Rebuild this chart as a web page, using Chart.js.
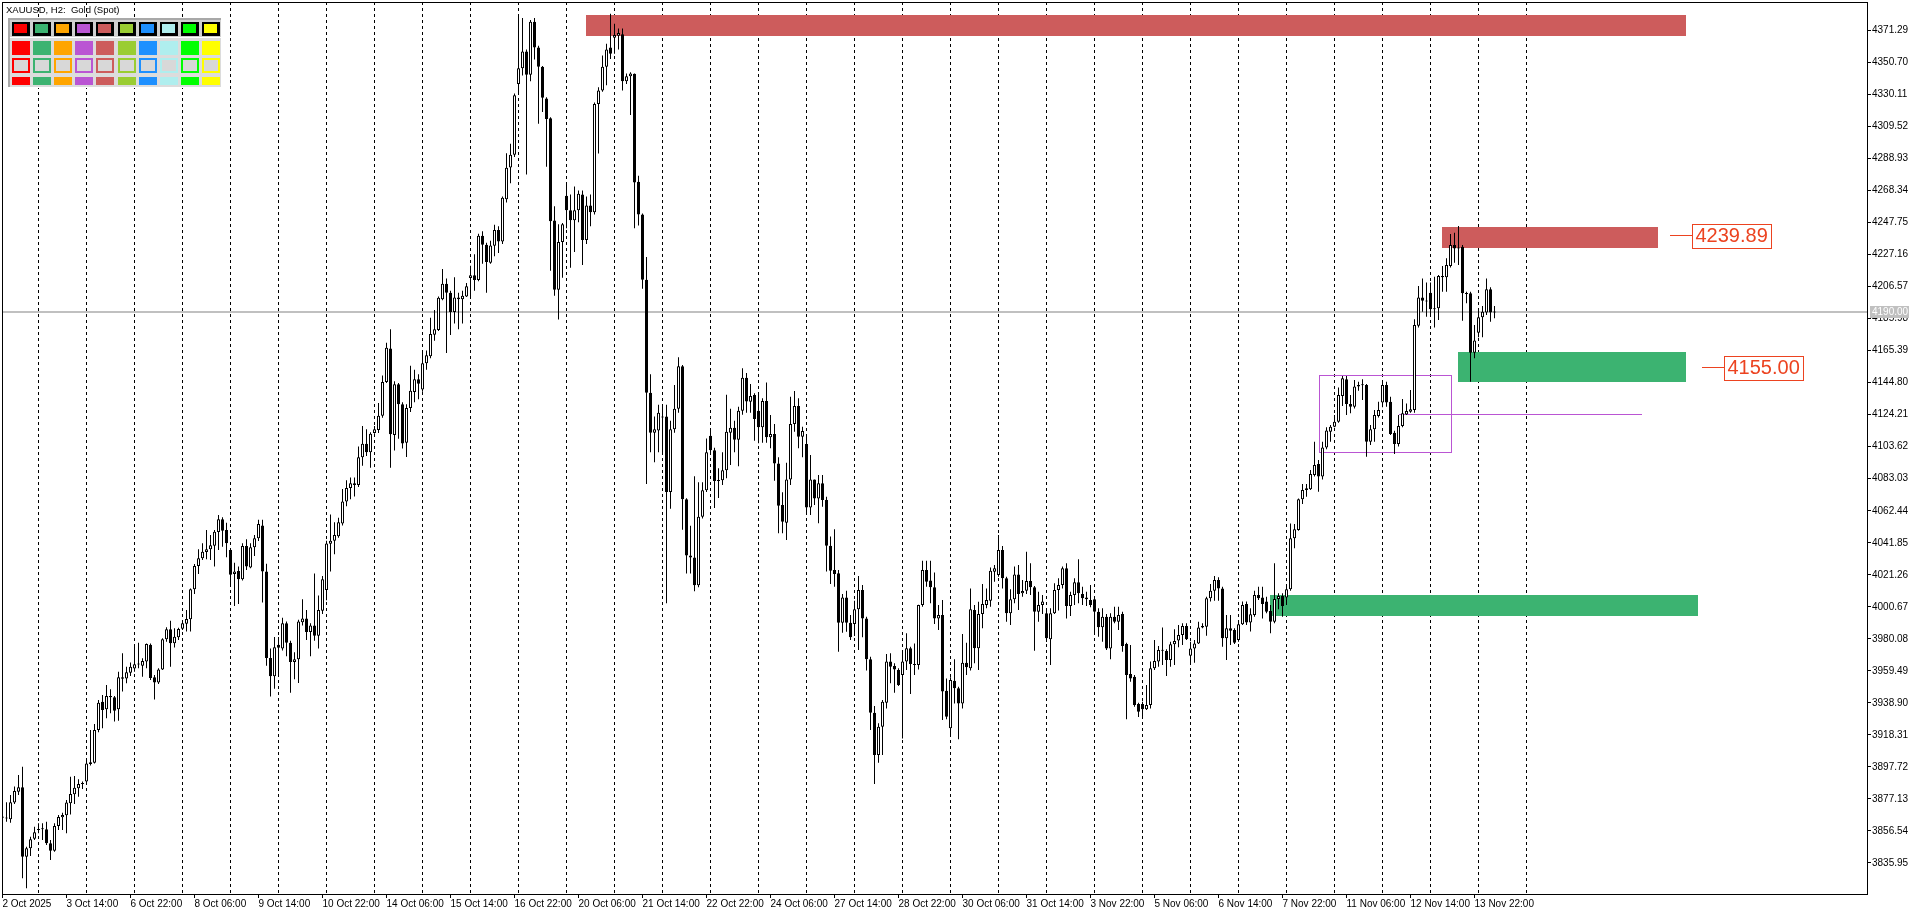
<!DOCTYPE html>
<html>
<head>
<meta charset="utf-8">
<title>XAUUSD, H2</title>
<script src="https://cdn.jsdelivr.net/npm/chart.js@4.4.1/dist/chart.umd.min.js"></script>
<style>
html,body{margin:0;padding:0;background:#ffffff;overflow:hidden;}
canvas{display:block;}
</style>
</head>
<body>
<canvas id="chart" width="1920" height="915"></canvas>
<script>
// ---------------- DATA ----------------
const symbolTitle = "XAUUSD, H2:  Gold (Spot)";

const opens = [
3865.0,3865.0,3864.0,3874.7,3881.7,3884.5,3839.9,3845.3,3851.5,3857.0,
3857.5,3857.5,3848.5,3843.8,3859.6,3865.2,3866.5,3874.2,3880.0,3883.9,
3886.7,3888.2,3899.5,3900.4,3921.4,3939.6,3934.7,3943.3,3942.4,3934.7,
3954.4,3954.6,3958.3,3960.9,3963.5,3962.8,3965.4,3976.3,3955.3,3951.9,
3960.4,3979.7,3986.2,3977.2,3981.0,3986.6,3989.8,3992.6,4011.9,4026.9,
4031.9,4035.9,4037.6,4040.0,4048.8,4056.9,4050.1,4037.2,4021.8,4023.7,
4018.3,4039.8,4026.0,4038.9,4044.7,4053.0,4023.3,3967.7,3956.0,3976.3,
3973.8,3990.0,3977.5,3965.2,3966.9,3990.7,3993.1,3984.5,3988.7,3982.0,
3998.1,4011.4,4041.2,4043.1,4046.1,4054.3,4068.4,4077.0,4080.2,4079.0,
4096.8,4105.5,4100.0,4112.4,4114.4,4123.5,4145.3,4166.8,4111.2,4143.8,
4131.0,4106.2,4128.5,4138.9,4147.0,4140.4,4157.4,4161.9,4175.7,4178.7,
4198.5,4208.4,4202.7,4190.3,4199.7,4198.5,4200.2,4212.1,4213.9,4210.9,
4239.3,4233.6,4222.0,4232.9,4243.0,4235.6,4262.8,4283.3,4291.4,4336.9,
4347.1,4357.8,4343.0,4377.0,4360.4,4348.1,4327.7,4314.9,4249.1,4204.6,
4235.3,4265.1,4255.7,4249.3,4255.7,4265.9,4236.6,4258.8,4254.4,4324.1,
4332.8,4348.1,4360.4,4366.7,4368.0,4369.0,4338.7,4342.0,4343.5,4274.1,
4253.1,4211.0,4138.3,4112.7,4114.0,4123.0,4123.0,4074.5,4114.8,4128.1,
4155.4,4069.9,4033.6,4032.3,4014.5,4058.6,4075.7,4110.7,4101.3,4081.6,
4082.1,4088.5,4112.7,4115.8,4108.1,4126.8,4148.0,4132.6,4136.9,4126.8,
4116.1,4133.0,4109.7,4111.8,4092.9,4066.1,4054.8,4082.6,4118.2,4129.8,
4110.1,4105.4,4064.6,4082.6,4070.4,4080.1,4069.4,4040.0,4024.3,4022.2,
3990.4,4006.7,3990.4,3989.6,3999.0,4011.5,3993.2,3966.9,3932.5,3905.3,
3923.5,3939.0,3965.4,3962.6,3960.0,3956.8,3965.4,3974.0,3963.9,3963.2,
4001.8,4024.3,4017.5,4013.2,3993.2,3995.4,3946.7,3922.5,3953.1,3948.2,
3938.5,3964.7,3961.1,3998.6,3974.0,3996.0,4001.8,4004.6,4023.2,4021.1,
4037.2,4019.0,3996.5,4005.5,4021.5,4009.3,4011.0,4017.3,4013.2,3997.5,
4001.8,3996.5,3979.7,3996.5,4011.5,4014.7,4025.4,4001.2,4008.2,4016.4,
4008.9,4006.7,4005.0,4005.5,3997.5,3987.5,3994.3,3973.9,3994.3,3991.1,
3996.0,3976.7,3957.4,3955.7,3938.1,3938.1,3934.7,3937.5,3961.1,3965.4,
3972.4,3972.2,3966.4,3976.5,3978.9,3982.5,3988.3,3969.2,3973.9,3977.1,
3988.3,3987.9,4006.1,4011.0,4017.9,4012.5,3980.4,3986.8,3985.7,3979.3,
3989.4,4002.5,3990.5,3995.4,4008.2,4006.7,4004.0,3997.9,3991.1,4005.7,
4007.6,4006.7,4011.9,4044.7,4050.1,4069.8,4076.9,4076.2,4085.4,4092.5,
4084.4,4103.2,4113.3,4116.5,4119.7,4136.3,4147.0,4131.1,4129.4,4143.3,
4143.6,4143.3,4106.9,4114.8,4123.4,4132.0,4143.3,4132.6,4112.7,4105.4,
4116.9,4124.4,4126.2,4127.2,4181.5,4199.7,4197.6,4202.7,4192.7,4192.7,
4212.6,4212.6,4219.9,4233.4,4231.7,4232.3,4202.3,4202.3,4164.1,4177.0,
4186.9,4189.9,4204.9,4190.3
];

const highs = [
3867.5,3874.9,3879.6,3885.0,3892.4,3897.8,3846.3,3852.8,3859.2,3861.4,
3861.4,3862.4,3850.6,3861.4,3866.7,3868.2,3876.4,3891.4,3891.8,3889.7,
3888.2,3903.2,3921.4,3925.3,3940.7,3943.9,3950.3,3947.6,3943.3,3958.9,
3970.7,3962.1,3964.9,3976.7,3977.6,3967.5,3977.1,3977.1,3956.8,3961.1,
3980.4,3987.5,3991.7,3986.8,3987.2,3991.1,3998.6,4012.5,4028.2,4037.6,
4041.5,4050.1,4046.9,4050.1,4059.7,4058.2,4054.8,4038.3,4029.0,4026.5,
4041.5,4044.1,4041.5,4046.9,4056.7,4056.7,4028.3,3973.8,3981.3,3981.3,
3993.6,3991.2,3978.8,3971.4,3992.4,4005.5,3998.6,3990.0,4022.1,4008.0,
4020.4,4043.1,4060.0,4055.0,4058.0,4076.5,4082.0,4083.9,4083.9,4103.7,
4116.9,4114.9,4112.9,4116.9,4131.7,4149.5,4170.5,4179.2,4145.8,4144.6,
4132.2,4131.0,4155.7,4153.2,4150.2,4164.9,4165.6,4186.6,4191.6,4200.2,
4218.0,4211.9,4203.9,4212.6,4202.7,4203.9,4208.9,4220.0,4227.4,4240.6,
4242.3,4234.8,4236.1,4246.5,4245.5,4264.6,4292.5,4298.6,4330.8,4380.8,
4379.5,4359.1,4378.2,4379.5,4361.6,4348.5,4328.5,4315.5,4258.3,4246.8,
4247.5,4272.3,4265.9,4271.0,4268.5,4268.5,4264.6,4265.9,4325.1,4334.8,
4355.3,4362.9,4382.1,4375.7,4372.6,4372.6,4343.8,4344.5,4343.8,4277.9,
4253.7,4225.6,4150.3,4123.0,4130.6,4130.6,4130.6,4120.4,4143.4,4161.2,
4156.2,4070.5,4052.8,4084.7,4080.8,4080.8,4108.9,4114.0,4103.0,4089.8,
4100.0,4137.0,4128.1,4120.4,4129.3,4154.1,4151.0,4144.0,4138.0,4138.0,
4134.8,4144.9,4124.0,4118.2,4096.8,4074.3,4093.4,4135.8,4139.5,4134.8,
4116.5,4111.8,4098.3,4082.6,4085.4,4085.4,4071.5,4045.8,4050.5,4024.3,
4008.9,4011.0,3995.4,4004.6,4020.5,4014.7,3994.3,3968.6,3936.8,3925.7,
3940.7,3970.3,3970.7,3964.3,3961.1,3971.8,3983.6,3975.0,3977.1,4002.0,
4030.3,4030.3,4030.3,4022.8,4001.8,4005.0,3954.6,3955.3,3966.9,3949.3,
3983.2,3977.6,4012.5,4001.8,4003.9,4015.3,4012.5,4026.0,4027.5,4046.8,
4039.8,4020.0,4011.9,4026.5,4027.5,4017.9,4036.1,4028.6,4014.0,4010.4,
4008.2,3999.7,3999.7,4015.8,4019.0,4026.5,4028.6,4010.4,4019.0,4031.2,
4013.6,4010.4,4014.7,4006.1,3999.7,3999.7,3996.0,3996.5,4000.7,4000.7,
3997.5,3977.6,3976.1,3956.8,3939.0,3939.6,3950.4,3965.4,3979.3,3975.4,
3987.4,3973.3,3978.2,3986.2,3988.9,3990.0,3990.0,3978.2,3979.3,3991.1,
3990.0,4007.2,4015.3,4020.5,4019.6,4013.6,3995.4,3995.4,3986.8,3992.2,
4004.0,4004.0,3999.7,4011.0,4013.6,4013.6,4007.2,4001.8,4028.6,4009.3,
4009.3,4014.0,4054.3,4053.9,4070.4,4079.6,4079.6,4088.6,4106.9,4095.1,
4106.9,4116.1,4117.6,4124.0,4141.8,4149.1,4149.1,4136.9,4146.5,4145.5,
4147.0,4144.0,4117.6,4127.2,4132.6,4146.5,4145.5,4135.8,4113.9,4124.0,
4134.3,4131.5,4140.1,4185.6,4207.0,4211.9,4209.2,4209.2,4213.0,4214.1,
4219.9,4224.8,4240.5,4241.3,4245.6,4233.4,4203.4,4203.4,4181.9,4191.2,
4194.2,4211.9,4206.2,4194.2
];

const lows = [
3863.5,3862.4,3861.8,3873.8,3879.6,3826.0,3819.6,3840.3,3850.6,3854.9,
3850.6,3847.4,3837.8,3843.0,3857.1,3857.1,3854.9,3867.1,3873.8,3878.5,
3883.5,3887.5,3898.5,3899.9,3919.9,3922.5,3928.9,3932.1,3926.8,3927.4,
3946.1,3951.4,3956.1,3958.9,3961.1,3955.7,3961.1,3953.6,3941.1,3951.0,
3960.0,3978.2,3962.1,3974.4,3979.3,3985.7,3984.7,3984.7,4008.9,4021.8,
4030.8,4031.2,4030.8,4026.5,4037.2,4039.3,4032.5,4013.6,4001.2,4002.5,
4017.5,4024.3,4025.4,4033.3,4043.0,4003.5,3962.7,3942.9,3947.9,3956.5,
3972.6,3968.9,3945.4,3954.0,3951.6,3988.7,3979.3,3968.9,3978.8,3973.8,
3996.1,4004.8,4023.3,4034.5,4045.1,4053.0,4065.4,4069.8,4071.6,4077.8,
4091.4,4097.6,4090.1,4111.9,4112.4,4122.3,4144.6,4090.1,4101.2,4108.7,
4102.5,4097.1,4126.0,4132.2,4134.2,4139.0,4153.2,4160.6,4171.8,4178.0,
4197.8,4163.9,4175.5,4182.9,4179.2,4182.9,4200.0,4199.0,4204.0,4210.1,
4221.3,4202.7,4221.3,4226.2,4228.2,4234.1,4260.8,4273.1,4290.0,4330.0,
4342.5,4278.7,4338.7,4352.7,4311.4,4319.0,4283.8,4216.9,4200.8,4185.5,
4212.3,4244.2,4218.7,4228.9,4248.0,4220.5,4234.0,4245.5,4253.1,4292.2,
4332.0,4336.1,4353.0,4356.5,4359.1,4332.8,4336.9,4317.0,4244.2,4246.0,
4205.2,4079.6,4100.0,4093.6,4100.0,4100.0,4003.0,4063.7,4112.7,4125.5,
4050.2,4022.1,4022.1,4010.6,4013.2,4057.5,4074.5,4100.0,4064.2,4070.6,
4079.0,4083.4,4091.8,4100.0,4091.0,4124.2,4125.5,4125.5,4107.5,4105.8,
4106.2,4106.2,4102.6,4081.8,4047.9,4047.9,4043.6,4079.0,4113.3,4102.6,
4096.8,4059.7,4059.7,4066.1,4054.4,4065.0,4023.3,4015.3,4013.6,3971.8,
3984.0,3984.6,3979.3,3981.9,3972.9,3981.0,3959.6,3921.4,3886.7,3900.4,
3905.3,3935.3,3951.4,3945.4,3949.7,3916.0,3960.0,3944.5,3956.8,3960.4,
4000.7,4013.6,4002.9,3989.6,3985.7,3927.8,3928.3,3917.1,3938.5,3915.4,
3935.3,3956.8,3959.6,3964.3,3960.0,3986.8,3999.7,4000.7,4016.8,4020.0,
4012.5,3991.1,3989.0,4002.9,3998.6,4007.2,4008.9,4008.2,3972.4,3991.1,
3996.0,3978.0,3963.2,3996.0,3998.2,4012.5,3993.2,3994.7,4001.8,4002.9,
4001.8,4001.2,4000.3,3982.5,3981.4,3978.2,3972.9,3966.9,3990.0,3985.7,
3971.8,3928.3,3952.5,3936.4,3929.8,3930.4,3934.3,3935.3,3960.0,3962.1,
3963.2,3956.1,3962.1,3963.2,3974.6,3976.1,3979.3,3964.3,3964.7,3976.7,
3986.8,3982.1,4004.0,4004.6,4004.6,3975.0,3966.4,3976.1,3976.7,3978.2,
3989.0,3989.0,3984.7,3994.3,4005.0,3993.2,3996.5,3983.6,3990.0,3999.0,
3994.3,4001.8,4011.0,4038.3,4049.6,4066.8,4071.5,4075.8,4084.4,4074.7,
4082.6,4102.0,4106.9,4116.1,4119.1,4129.8,4124.0,4125.1,4128.3,4139.7,
4133.7,4097.2,4104.7,4106.9,4122.5,4129.0,4129.4,4111.2,4098.9,4103.7,
4116.1,4124.0,4125.5,4125.5,4180.4,4190.5,4187.3,4187.3,4180.4,4185.1,
4203.4,4203.4,4219.0,4222.0,4220.5,4184.7,4196.0,4145.5,4160.5,4174.0,
4174.0,4188.4,4184.1,4186.2
];

const closes = [
3865.8,3864.4,3874.9,3882.2,3884.5,3839.9,3845.3,3851.1,3855.6,3857.7,
3857.7,3848.5,3843.8,3859.6,3865.4,3866.7,3874.7,3880.2,3884.3,3886.7,
3887.1,3899.9,3900.6,3921.4,3939.0,3934.3,3943.3,3942.4,3933.8,3955.3,
3955.3,3958.5,3962.1,3963.7,3963.9,3965.8,3976.7,3954.9,3951.9,3960.4,
3979.7,3986.2,3977.2,3981.4,3986.4,3990.0,3992.8,4011.9,4026.9,4031.9,
4036.1,4037.6,4040.2,4049.0,4056.9,4049.6,4041.5,4021.3,4023.3,4018.3,
4039.8,4026.5,4038.9,4044.7,4053.9,4023.3,3967.7,3956.0,3974.6,3974.3,
3990.0,3977.5,3965.2,3966.9,3991.2,3993.1,3984.5,3988.7,3982.0,3998.6,
4018.4,4041.4,4043.1,4046.8,4055.0,4068.4,4077.0,4080.2,4079.0,4096.8,
4105.5,4100.0,4111.9,4114.9,4123.5,4145.3,4167.3,4111.6,4143.8,4131.0,
4105.7,4128.5,4139.6,4147.0,4144.1,4157.4,4162.4,4176.2,4179.2,4199.5,
4208.4,4202.7,4190.3,4199.7,4198.5,4200.7,4206.9,4213.9,4210.9,4239.3,
4233.6,4222.5,4233.1,4243.0,4235.6,4263.8,4283.1,4291.4,4329.7,4347.1,
4357.8,4343.0,4377.0,4360.4,4348.1,4328.2,4314.4,4248.6,4204.6,4235.3,
4246.8,4255.7,4249.3,4255.7,4266.4,4236.6,4258.8,4254.4,4324.1,4332.8,
4348.1,4359.1,4356.5,4368.5,4369.8,4338.7,4342.0,4343.8,4273.6,4253.1,
4211.0,4138.3,4112.7,4114.8,4125.5,4122.4,4074.5,4114.8,4128.1,4155.4,
4069.9,4033.6,4032.3,4014.5,4058.6,4075.7,4100.0,4101.3,4081.6,4082.1,
4088.5,4113.2,4115.8,4108.1,4126.8,4148.0,4132.7,4136.3,4121.5,4116.1,
4133.0,4109.7,4111.8,4092.9,4065.7,4055.4,4082.6,4118.2,4129.8,4110.1,
4113.7,4064.6,4082.6,4070.4,4080.1,4069.4,4040.0,4023.9,4021.8,3990.4,
4006.7,3990.4,3981.0,3999.0,4011.5,3993.2,3966.9,3932.5,3905.3,3923.5,
3939.6,3965.4,3962.1,3960.4,3950.4,3965.4,3974.0,3963.9,3963.2,4001.8,
4024.3,4016.8,4013.2,3993.2,3995.4,3946.1,3930.0,3953.6,3948.2,3938.5,
3964.7,3961.7,3999.0,3974.0,3996.0,4002.4,4005.0,4023.9,4025.4,4037.2,
4019.0,3996.5,4005.5,4021.5,4008.9,4010.8,4017.3,4013.2,3997.5,4001.8,
4004.0,3980.4,3996.5,4011.5,4014.7,4025.4,4001.2,4008.2,4016.4,4009.3,
4006.1,4005.5,4001.8,3997.5,3987.5,3994.3,3973.9,3994.3,3991.1,3995.4,
3975.4,3956.8,3954.6,3937.5,3933.2,3934.7,3937.5,3961.1,3965.8,3972.9,
3972.9,3966.4,3976.5,3978.7,3982.5,3988.3,3979.7,3973.9,3977.1,3987.4,
3987.4,4006.1,4011.0,4017.9,4012.5,3980.4,3986.8,3985.3,3977.6,3989.4,
4001.8,3990.5,3995.8,4008.2,4006.1,4002.5,3997.5,3991.1,4005.7,4007.6,
4001.2,4011.9,4044.7,4050.5,4069.8,4075.8,4075.8,4086.1,4091.9,4084.4,
4103.2,4114.0,4116.5,4119.7,4136.9,4147.6,4131.1,4129.4,4142.3,4142.3,
4143.1,4106.9,4114.8,4124.0,4127.2,4143.3,4132.0,4111.8,4105.4,4116.9,
4125.1,4126.6,4127.7,4181.9,4199.7,4197.6,4197.0,4192.0,4192.0,4213.5,
4213.5,4220.5,4233.4,4231.2,4231.2,4202.3,4201.9,4164.1,4171.9,4186.9,
4190.5,4204.9,4189.9,4190.0
];

// time axis labels (bar index -> text)
const timeLabelBars = [0,16,32,48,64,80,96,112,128,144,160,176,192,208,224,240,256,272,288,304,320,336,352,368];
const timeLabels = ["2 Oct 2025","3 Oct 14:00","6 Oct 22:00","8 Oct 06:00","9 Oct 14:00","10 Oct 22:00",
  "14 Oct 06:00","15 Oct 14:00","16 Oct 22:00","20 Oct 06:00","21 Oct 14:00","22 Oct 22:00",
  "24 Oct 06:00","27 Oct 14:00","28 Oct 22:00","30 Oct 06:00","31 Oct 14:00","3 Nov 22:00",
  "5 Nov 06:00","6 Nov 14:00","7 Nov 22:00","11 Nov 06:00","12 Nov 14:00","13 Nov 22:00"];
// vertical dashed grid (bar index)
const gridBars = [9,21,33,45,57,69,81,93,105,117,129,141,153,165,177,189,201,213,225,237,249,261,273,285,297,309,321,333,345,357,369,381];
// price scale ticks
const priceTicks = [3835.95,3856.54,3877.13,3897.72,3918.31,3938.90,3959.49,3980.08,4000.67,4021.26,
  4041.85,4062.44,4083.03,4103.62,4124.21,4144.80,4165.39,4185.98,4206.57,4227.16,4247.75,4268.34,
  4288.93,4309.52,4330.11,4350.70,4371.29];

// supply / demand zones (bar index, price)
const zoneFrom = [145.8, 359.9, 363.9, 316.9];
const zoneTo   = [420.9, 413.9, 420.9, 423.9];
const zoneHigh = [4381.4, 4245.0, 4164.6, 4008.3];
const zoneLow  = [4368.0, 4231.7, 4145.5, 3994.9];
const zoneKind = ["supply", "supply", "demand", "demand"];

// consolidation range box and its mid line
const rangeFrom = 329.0, rangeTo = 362.1, rangeHigh = 4149.6, rangeLow = 4100.0;
const rangeMidFrom = 349.0, rangeMidTo = 409.9, rangeMid = 4124.5;

// level labels
const levelPrices = [4239.89, 4155.00];
const levelAnchor = [416.9, 424.9];

const currentPrice = 4190.00;

// ---------------- CHART ----------------
const FONT = "'Liberation Sans', Arial, Helvetica, sans-serif";
Chart.defaults.font.family = FONT;
Chart.defaults.color = '#000';

const idx = opens.map((_, i) => i);
const wickData = idx.map(i => ({x: i, y: [lows[i], highs[i]]}));
const bodyData = idx.map(i => ({x: i, y: [opens[i], closes[i]]}));

const SUPPLY = '#CD5C5C', DEMAND = '#3CB371', RANGE = '#BA55D3', LABEL = '#EC4320';
const swatchColors = ['#FF0000','#3CB371','#FFA500','#BA55D3','#CD5C5C','#9ACD32','#1E90FF','#AFEEEE','#00FF00','#FFFF00'];

const overlay = {
  id: 'overlay',
  beforeDraw(chart) {
    const ctx = chart.ctx;
    ctx.save();
    ctx.fillStyle = '#ffffff';
    ctx.fillRect(0, 0, chart.width, chart.height);
    ctx.restore();
  },
  beforeDatasetsDraw(chart) {
    const ctx = chart.ctx, xs = chart.scales.x, ys = chart.scales.y, a = chart.chartArea;
    ctx.save();
    ctx.beginPath();
    ctx.rect(a.left, a.top, a.right - a.left, a.bottom - a.top);
    ctx.clip();
    for (let k = 0; k < zoneFrom.length; k++) {
      const x1 = Math.round(xs.getPixelForValue(zoneFrom[k]));
      const x2 = Math.round(xs.getPixelForValue(zoneTo[k]));
      const y1 = Math.round(ys.getPixelForValue(zoneHigh[k]));
      const y2 = Math.round(ys.getPixelForValue(zoneLow[k]));
      ctx.fillStyle = zoneKind[k] === 'supply' ? SUPPLY : DEMAND;
      ctx.fillRect(x1, y1, x2 - x1, y2 - y1);
    }
    ctx.strokeStyle = RANGE;
    ctx.lineWidth = 1;
    const rx1 = Math.round(xs.getPixelForValue(rangeFrom)) + 0.5;
    const rx2 = Math.round(xs.getPixelForValue(rangeTo)) + 0.5;
    const ry1 = Math.round(ys.getPixelForValue(rangeHigh)) + 0.5;
    const ry2 = Math.round(ys.getPixelForValue(rangeLow)) + 0.5;
    ctx.strokeRect(rx1, ry1, rx2 - rx1, ry2 - ry1);
    const my = Math.round(ys.getPixelForValue(rangeMid)) + 0.5;
    ctx.beginPath();
    ctx.moveTo(Math.round(xs.getPixelForValue(rangeMidFrom)), my);
    ctx.lineTo(Math.round(xs.getPixelForValue(rangeMidTo)), my);
    ctx.stroke();
    const py = Math.round(ys.getPixelForValue(currentPrice));
    ctx.strokeStyle = '#c0c0c0';
    ctx.lineWidth = 2;
    ctx.beginPath();
    ctx.moveTo(a.left, py);
    ctx.lineTo(a.right, py);
    ctx.stroke();
    ctx.restore();
  },
  afterDraw(chart) {
    const ctx = chart.ctx, xs = chart.scales.x, ys = chart.scales.y, a = chart.chartArea;
    ctx.save();
    ctx.strokeStyle = '#000';
    ctx.lineWidth = 1;
    ctx.strokeRect(a.left + 0.5, a.top + 0.5, a.right - a.left, a.bottom - a.top);

    ctx.font = "20px " + FONT;
    ctx.textBaseline = 'middle';
    ctx.textAlign = 'left';
    for (let k = 0; k < levelPrices.length; k++) {
      const y = Math.round(ys.getPixelForValue(levelPrices[k])) + 0.5;
      const x0 = Math.round(xs.getPixelForValue(levelAnchor[k]));
      const txt = levelPrices[k].toFixed(2);
      const tw = Math.ceil(ctx.measureText(txt).width);
      ctx.strokeStyle = LABEL;
      ctx.lineWidth = 1;
      ctx.beginPath();
      ctx.moveTo(x0, y);
      ctx.lineTo(x0 + 22, y);
      ctx.stroke();
      const bx = x0 + 22.5, bw = tw + 6, bh = 24;
      ctx.strokeRect(bx, Math.round(y - bh / 2) + 0.5, bw, bh);
      ctx.fillStyle = LABEL;
      ctx.fillText(txt, bx + 3, y + 1);
    }

    const py = Math.round(ys.getPixelForValue(currentPrice));
    ctx.fillStyle = '#c0c0c0';
    ctx.fillRect(a.right + 3, py - 6, 39, 12);
    ctx.fillStyle = '#ffffff';
    ctx.font = "10px " + FONT;
    ctx.textBaseline = 'middle';
    ctx.fillText(currentPrice.toFixed(2), a.right + 5, py);

    ctx.fillStyle = '#000';
    ctx.font = "9.5px " + FONT;
    ctx.textBaseline = 'alphabetic';
    ctx.fillText(symbolTitle, 6, 13);

    ctx.fillStyle = '#dcdcdc';
    ctx.fillRect(8, 18, 214, 70);
    ctx.fillStyle = '#d0d0d0';
    ctx.fillRect(10, 20, 212, 17);
    ctx.fillStyle = '#a8a8a8';
    ctx.fillRect(8, 18, 214, 2);
    ctx.fillRect(8, 18, 2, 70);
    ctx.fillStyle = '#ffffff';
    ctx.fillRect(10, 37, 211, 1);
    ctx.fillRect(221, 18, 1, 70);
    ctx.fillRect(8, 87, 214, 1);
    for (let k = 0; k < swatchColors.length; k++) {
      const x = Math.round(12 + 21.1 * k);
      const c = swatchColors[k];
      ctx.fillStyle = '#000';
      ctx.fillRect(x, 22, 18, 14);
      ctx.fillStyle = c;
      ctx.fillRect(x + 2, 24, 13, 9);
      ctx.fillRect(x, 41, 18, 14);
      ctx.fillRect(x, 58, 18, 15);
      ctx.fillStyle = '#d8d8d8';
      ctx.fillRect(x + 2, 60, 14, 11);
      ctx.fillStyle = c;
      ctx.fillRect(x, 77, 18, 8);
    }
    ctx.restore();
  }
};

const XMIN = -0.125, XMAX = 466.125;

new Chart(document.getElementById('chart'), {
  type: 'bar',
  data: {
    datasets: [
      {
        label: 'bodies',
        data: bodyData,
        order: 1,
        grouped: false,
        barThickness: 3,
        minBarLength: 1,
        inflateAmount: 0,
        borderSkipped: false,
        borderWidth: 1,
        borderColor: '#000',
        backgroundColor: (c) => (c.dataIndex === undefined) ? '#000' :
          (closes[c.dataIndex] >= opens[c.dataIndex] ? '#ffffff' : '#000000')
      },
      {
        label: 'wicks',
        data: wickData,
        order: 2,
        grouped: false,
        barThickness: 1,
        inflateAmount: 0,
        borderWidth: 0,
        backgroundColor: '#000'
      }
    ]
  },
  options: {
    responsive: false,
    animation: false,
    devicePixelRatio: 1,
    events: [],
    layout: { autoPadding: false, padding: { left: 2, top: 2, right: 0, bottom: 0 } },
    plugins: { legend: { display: false }, tooltip: { enabled: false } },
    scales: {
      x: {
        type: 'linear', position: 'bottom', min: XMIN, max: XMAX, offset: false,
        afterBuildTicks: (s) => { s.ticks = timeLabelBars.map(v => ({ value: v })); },
        afterFit: (s) => { s.height = 21; s.paddingLeft = 0; s.paddingRight = 0; s.paddingTop = 0; s.paddingBottom = 0; },
        grid: { display: true, offset: false, drawOnChartArea: false, drawTicks: true, tickLength: 4, color: '#000', lineWidth: 1 },
        border: { display: false },
        ticks: {
          autoSkip: false, maxRotation: 0, minRotation: 0, align: 'start', padding: 0,
          color: '#000', font: { family: FONT, size: 10 },
          callback: (v, i) => timeLabels[i]
        }
      },
      xg: {
        type: 'linear', position: 'bottom', min: XMIN, max: XMAX, offset: false,
        afterBuildTicks: (s) => { s.ticks = gridBars.map(v => ({ value: v })); },
        afterFit: (s) => { s.height = 0; s.paddingLeft = 0; s.paddingRight = 0; s.paddingTop = 0; s.paddingBottom = 0; },
        grid: { display: true, offset: false, drawOnChartArea: true, drawTicks: false, color: '#000', lineWidth: 1 },
        border: { display: false, dash: [3, 3] },
        ticks: { display: false }
      },
      y: {
        type: 'linear', position: 'right', min: 3815.9, max: 4389.72, beginAtZero: false,
        afterBuildTicks: (s) => { s.ticks = priceTicks.map(v => ({ value: v })); },
        afterFit: (s) => { s.width = 53; s.paddingTop = 0; s.paddingBottom = 0; s.paddingLeft = 0; s.paddingRight = 0; },
        grid: { display: true, drawOnChartArea: false, drawTicks: true, tickLength: 4, color: '#000', lineWidth: 1 },
        border: { display: false },
        ticks: {
          autoSkip: false, padding: 1, color: '#000', font: { family: FONT, size: 10 },
          callback: (v) => Number(v).toFixed(2)
        }
      }
    }
  },
  plugins: [overlay]
});
</script>
</body>
</html>
